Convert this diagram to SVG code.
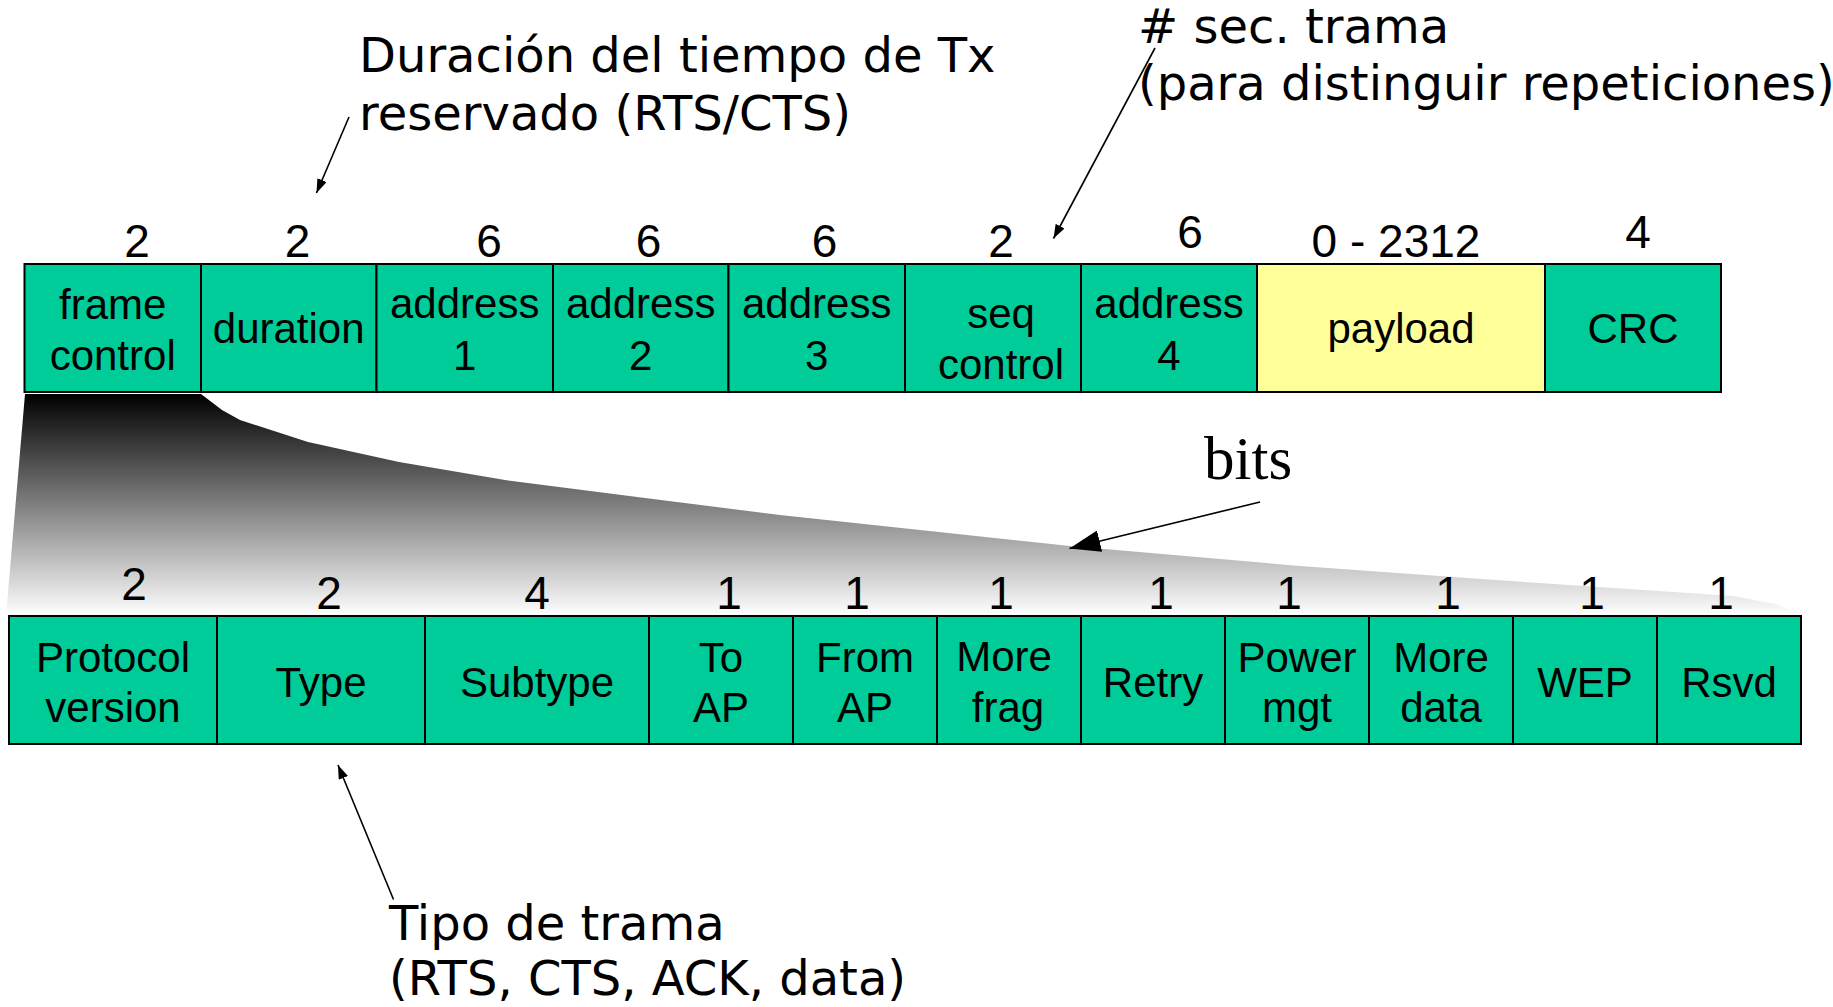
<svg xmlns="http://www.w3.org/2000/svg" width="1833" height="1007" viewBox="0 0 1833 1007">
<style>
.cell{fill:#00CC99;stroke:#000;stroke-width:2}
.pay{fill:#FFFF99;stroke:#000;stroke-width:2}
.lbl{font-family:"Liberation Sans",Arial,sans-serif;font-size:42px;fill:#000;text-anchor:middle}
.num{font-family:"Liberation Sans",Arial,sans-serif;font-size:46px;fill:#000;text-anchor:middle}
.ann{font-family:"DejaVu Sans",Verdana,sans-serif;font-size:48px;fill:#000}
.bits{font-family:"Liberation Serif","Times New Roman",serif;font-size:61px;fill:#000}
.conn{stroke:#000;stroke-width:1.6;fill:none}
</style>
<defs>
<linearGradient id="fan" x1="0" y1="0" x2="0" y2="1">
<stop offset="0" stop-color="#000"/>
<stop offset="1" stop-color="#fff"/>
</linearGradient>
<marker id="ah" markerUnits="userSpaceOnUse" markerWidth="14" markerHeight="10" refX="14" refY="5" orient="auto"><path d="M0,0 L14,5 L0,10 z" fill="#000"/></marker>
<marker id="ahBig" markerUnits="userSpaceOnUse" markerWidth="31" markerHeight="22" refX="31" refY="11" orient="auto"><path d="M0,0 L31,11 L0,22 z" fill="#000"/></marker>
</defs>
<rect x="0" y="0" width="1833" height="1007" fill="#fff"/>

<path id="fan-shape" d="M25,394 L201,394 L222,410 L240,420 L308,442 L399,462 L505,480 L645,498 L780,515 L920,530 L1070,546 L1300,566 L1495,580 L1733,596 L1775,604 L1805,616 L6,616 Z" fill="url(#fan)"/>

<g id="top-numbers">
<text class="num" x="137" y="257">2</text>
<text class="num" x="297.5" y="257">2</text>
<text class="num" x="489" y="257">6</text>
<text class="num" x="648.5" y="257">6</text>
<text class="num" x="824.5" y="257">6</text>
<text class="num" x="1001" y="257">2</text>
<text class="num" x="1190" y="248">6</text>
<text class="num" x="1396" y="257">0 - 2312</text>
<text class="num" x="1638" y="248">4</text>
</g>

<g id="frame-control"><rect class="cell" x="24.5" y="264" width="176.5" height="128"/><text class="lbl" x="112.7" y="319">frame</text><text class="lbl" x="112.7" y="370">control</text></g>
<g id="duration"><rect class="cell" x="201" y="264" width="175.5" height="128"/><text class="lbl" x="288.7" y="343">duration</text></g>
<g id="address1"><rect class="cell" x="376.5" y="264" width="176.5" height="128"/><text class="lbl" x="464.7" y="318">address</text><text class="lbl" x="464.7" y="370">1</text></g>
<g id="address2"><rect class="cell" x="553" y="264" width="175.5" height="128"/><text class="lbl" x="640.7" y="318">address</text><text class="lbl" x="640.7" y="370">2</text></g>
<g id="address3"><rect class="cell" x="728.5" y="264" width="176.5" height="128"/><text class="lbl" x="816.7" y="318">address</text><text class="lbl" x="816.7" y="370">3</text></g>
<g id="seq-control"><rect class="cell" x="905" y="264" width="176" height="128"/><text class="lbl" x="1001" y="328">seq</text><text class="lbl" x="1001" y="379">control</text></g>
<g id="address4"><rect class="cell" x="1081" y="264" width="176" height="128"/><text class="lbl" x="1169" y="318">address</text><text class="lbl" x="1169" y="370">4</text></g>
<g id="payload"><rect class="pay" x="1257" y="264" width="288" height="128"/><text class="lbl" x="1401" y="343">payload</text></g>
<g id="crc"><rect class="cell" x="1545" y="264" width="176" height="128"/><text class="lbl" x="1633" y="343">CRC</text></g>

<g id="bottom-numbers">
<text class="num" x="134" y="600">2</text>
<text class="num" x="329" y="609">2</text>
<text class="num" x="537" y="609">4</text>
<text class="num" x="729" y="609">1</text>
<text class="num" x="857" y="609">1</text>
<text class="num" x="1001" y="609">1</text>
<text class="num" x="1161" y="609">1</text>
<text class="num" x="1289" y="609">1</text>
<text class="num" x="1448" y="609">1</text>
<text class="num" x="1592" y="609">1</text>
<text class="num" x="1721" y="609">1</text>
</g>

<g id="protocol-version"><rect class="cell" x="9" y="616" width="208" height="128"/><text class="lbl" x="113" y="672">Protocol</text><text class="lbl" x="113" y="722">version</text></g>
<g id="type"><rect class="cell" x="217" y="616" width="208" height="128"/><text class="lbl" x="321" y="697">Type</text></g>
<g id="subtype"><rect class="cell" x="425" y="616" width="224" height="128"/><text class="lbl" x="537" y="697">Subtype</text></g>
<g id="to-ap"><rect class="cell" x="649" y="616" width="144" height="128"/><text class="lbl" x="721" y="672">To</text><text class="lbl" x="721" y="722">AP</text></g>
<g id="from-ap"><rect class="cell" x="793" y="616" width="144" height="128"/><text class="lbl" x="865" y="672">From</text><text class="lbl" x="865" y="722">AP</text></g>
<g id="more-frag"><rect class="cell" x="937" y="616" width="144" height="128"/><text class="lbl" x="1004" y="671">More</text><text class="lbl" x="1008" y="722">frag</text></g>
<g id="retry"><rect class="cell" x="1081" y="616" width="144" height="128"/><text class="lbl" x="1153" y="697">Retry</text></g>
<g id="power-mgt"><rect class="cell" x="1225" y="616" width="144" height="128"/><text class="lbl" x="1297" y="672">Power</text><text class="lbl" x="1297" y="722">mgt</text></g>
<g id="more-data"><rect class="cell" x="1369" y="616" width="144" height="128"/><text class="lbl" x="1441" y="672">More</text><text class="lbl" x="1441" y="722">data</text></g>
<g id="wep"><rect class="cell" x="1513" y="616" width="144" height="128"/><text class="lbl" x="1585" y="697">WEP</text></g>
<g id="rsvd"><rect class="cell" x="1657" y="616" width="144" height="128"/><text class="lbl" x="1729" y="697">Rsvd</text></g>

<g id="annotations">
<text class="ann" x="359" y="72">Duración del tiempo de Tx</text>
<text class="ann" x="359" y="130">reservado (RTS/CTS)</text>
<text class="ann" x="1138" y="43"># sec. trama</text>
<text class="ann" x="1138" y="100">(para distinguir repeticiones)</text>
<text class="bits" x="1204" y="479">bits</text>
<text class="ann" x="389" y="940">Tipo de trama</text>
<text class="ann" x="389" y="995">(RTS, CTS, ACK, data)</text>
</g>

<g id="connectors">
<line class="conn" x1="349" y1="117" x2="316.5" y2="193" marker-end="url(#ah)"/>
<line class="conn" x1="1155" y1="48" x2="1053.5" y2="238.5" marker-end="url(#ah)"/>
<line class="conn" x1="1260" y1="502" x2="1069.5" y2="548.5" marker-end="url(#ahBig)"/>
<line class="conn" x1="393.5" y1="899.5" x2="338" y2="765" marker-end="url(#ah)"/>
</g>
</svg>
